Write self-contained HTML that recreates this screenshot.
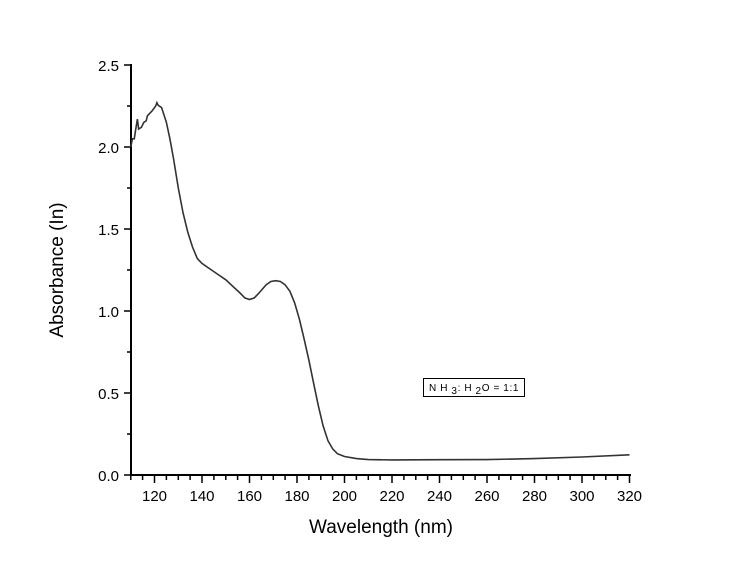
<!DOCTYPE html>
<html><head><style>body{margin:0;background:#fff}</style></head><body>
<svg width="732" height="570" xmlns="http://www.w3.org/2000/svg" font-family="Liberation Sans, Arial, sans-serif">
<rect width="732" height="570" fill="#fff"/>
<g stroke="#000" stroke-width="2" fill="none">
<line x1="131" y1="64" x2="131" y2="476"/>
<line x1="130" y1="475" x2="631" y2="475"/>
</g>
<g stroke="#000" stroke-width="1.5">
<line x1="124" y1="65" x2="131" y2="65"/><line x1="127" y1="106" x2="131" y2="106"/>
<line x1="124" y1="147" x2="131" y2="147"/><line x1="127" y1="188" x2="131" y2="188"/>
<line x1="124" y1="229" x2="131" y2="229"/><line x1="127" y1="270" x2="131" y2="270"/>
<line x1="124" y1="311" x2="131" y2="311"/><line x1="127" y1="352" x2="131" y2="352"/>
<line x1="124" y1="393" x2="131" y2="393"/><line x1="127" y1="434" x2="131" y2="434"/>
<line x1="124" y1="475" x2="131" y2="475"/>
</g>
<g id="xt" stroke="#000" stroke-width="1.5"></g>
<g font-size="15" fill="#000" text-anchor="end">
<text x="119" y="71">2.5</text><text x="119" y="153">2.0</text><text x="119" y="235">1.5</text>
<text x="119" y="317">1.0</text><text x="119" y="399">0.5</text><text x="119" y="481">0.0</text>
</g>
<g id="xl" font-size="15" fill="#000" text-anchor="middle"></g>
<text x="381" y="533" font-size="19" text-anchor="middle">Wavelength (nm)</text>
<text transform="translate(63,270) rotate(-90)" font-size="19" text-anchor="middle">Absorbance (In)</text>
<rect x="423.5" y="378.5" width="101" height="18" fill="#fff" stroke="#000" stroke-width="1"/>
<text x="429" y="391" font-size="10" letter-spacing="0.6">N H <tspan dy="3">3</tspan><tspan dy="-3">: H </tspan><tspan dy="3">2</tspan><tspan dy="-3">O  =  1:1</tspan></text>
<polyline id="c" fill="none" stroke="#333" stroke-width="1.6"/>
</svg>
<script>
var X=n=>130.75+(n-110)*2.375, Y=a=>475-a*164;
var d=[[110,2.0],[110.7,2.05],[111.5,2.05],[112,2.1],[112.8,2.17],[113.3,2.11],[114.5,2.12],[115.5,2.15],[116.5,2.16],[117,2.19],[119,2.22],[120.5,2.25],[121,2.27],[121.5,2.255],[123,2.24],[125,2.15],[126.5,2.05],[128,1.93],[130,1.75],[132,1.6],[134,1.48],[136,1.39],[138,1.32],[140,1.29],[143,1.26],[147,1.22],[150,1.19],[153,1.15],[156,1.11],[158,1.08],[160,1.07],[162,1.08],[164,1.11],[167,1.16],[169,1.18],[171,1.185],[173,1.18],[175,1.16],[177,1.12],[179,1.05],[181,0.95],[183,0.83],[185,0.7],[187,0.56],[189,0.42],[191,0.3],[193,0.21],[195,0.16],[197,0.13],[200,0.113],[205,0.1],[210,0.094],[220,0.092],[240,0.093],[260,0.094],[280,0.1],[300,0.11],[320,0.123]];
document.getElementById('c').setAttribute('points',d.map(p=>X(p[0]).toFixed(1)+','+Y(p[1]).toFixed(1)).join(' '));
var t='',l='';
for(var n=110;n<=320;n+=5){var x=X(n).toFixed(1),maj=n%20==0;t+='<line x1="'+x+'" y1="475" x2="'+x+'" y2="'+(maj?483:480)+'"/>';if(maj)l+='<text x="'+x+'" y="501">'+n+'</text>';}
document.getElementById('xt').innerHTML=t;document.getElementById('xl').innerHTML=l;
</script>
</body></html>
